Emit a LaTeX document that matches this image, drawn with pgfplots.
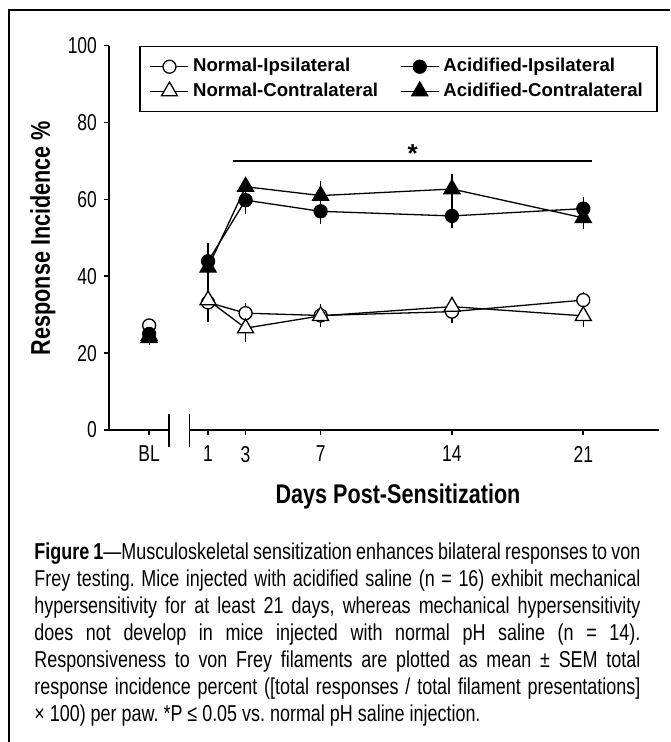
\documentclass[border=0pt]{standalone}
\usepackage{fontspec}
\setmainfont{Liberation Sans}
\newfontfamily\nf[FakeStretch=0.8]{Liberation Sans}
\newfontfamily\tf[FakeStretch=0.76]{Liberation Sans}
\newfontfamily\cf[FakeStretch=0.78]{Liberation Sans}
\usepackage{pgfplots}
\pgfplotsset{compat=1.18}

\pgfplotstableread{
x y e
1 33.2 5
3 30.4 2.6
7 29.8 2.8
14 30.8 3
21 33.8 2.2
}\NI
\pgfplotstableread{
x y e
1 33.8 5
3 26.5 3.5
7 29.7 3
14 32.1 2.6
21 29.7 2.8
}\NC
\pgfplotstableread{
x y e
1 43.9 4.8
3 59.8 3.6
7 56.9 3.3
14 55.7 3.1
21 57.6 3
}\AI
\pgfplotstableread{
x y e
1 42.3 4.5
3 63.3 2.5
7 61.0 3.8
14 62.7 3.8
21 55.2 3
}\AC

\begin{document}
\frenchspacing
\begin{tikzpicture}
\begin{scope}[x=0.5pt,y=0.5pt]
\useasboundingbox (0,0) rectangle (670,742);
\draw[line width=0.6pt] (9,0) -- (9,732) -- (670,732);
\end{scope}

\begin{axis}[
  at={(54.5pt,156pt)}, anchor=south west,
  scale only axis, width=274.85pt, height=192.15pt,
  xmin=-4.28, xmax=25.02, ymin=0, ymax=100,
  axis lines*=left,
  x axis line style={draw=none},
  y axis line style={line width=0.8pt},
  tick align=outside, major tick length=2.5pt,
  tick style={black, line width=0.8pt},
  xtick={-2.14,1,3,7,14,21}, xticklabels={BL,1,3,7,14,21},
  ytick={0,20,40,60,80,100},
  tick label style={font=\tf\fontsize{11.5}{13}\selectfont},
  xticklabel style={yshift=-2pt},
  /pgf/number format/assume math mode=true,
  clip=false,
  legend columns=2,
  legend style={at={(axis cs:-2.68,100)}, anchor=north west, draw=black, line width=0.8pt,
    font=\bfseries\fontsize{9.3}{11}\selectfont, inner xsep=5pt, inner ysep=4pt,
    /tikz/every even column/.append style={column sep=9pt}},
  legend cell align=left,
  legend image code/.code={\draw[mark repeat=2,mark phase=2,#1] plot coordinates {(0pt,0pt) (9.5pt,0pt) (19pt,0pt)};},
  every axis plot/.append style={black, line width=0.65pt},
  error bars/error bar style={line width=0.65pt},
  error bars/error mark=none,
]
% axis line with break
\draw[line width=0.8pt] (axis cs:-4.28,0) -- (axis cs:-1.08,0);
\draw[line width=0.8pt] (axis cs:0,0) -- (axis cs:25.02,0);
\draw[line width=0.8pt] (axis cs:-1.08,-4.3) -- (axis cs:-1.08,4.2);
\draw[line width=0.8pt] (axis cs:0,-4.3) -- (axis cs:0,4.2);

\addplot[mark=*, mark size=3.25pt, mark options={fill=white},
  error bars/.cd, y dir=both, y explicit] table[x=x,y=y,y error=e] {\NI};
\addlegendentry{Normal-Ipsilateral}
\addplot[mark=*, mark size=3.25pt, mark options={fill=black},
  error bars/.cd, y dir=both, y explicit] table[x=x,y=y,y error=e] {\AI};
\addlegendentry{Acidified-Ipsilateral}
\addplot[mark=triangle*, mark size=4.6pt, mark options={fill=white},
  error bars/.cd, y dir=both, y explicit] table[x=x,y=y,y error=e] {\NC};
\addlegendentry{Normal-Contralateral}
\addplot[mark=triangle*, mark size=4.6pt, mark options={fill=black},
  error bars/.cd, y dir=both, y explicit] table[x=x,y=y,y error=e] {\AC};
\addlegendentry{Acidified-Contralateral}

% baseline points
\addplot[forget plot, only marks, mark=triangle*, mark size=4.6pt, mark options={fill=white},
  error bars/.cd, y dir=both, y explicit] coordinates {(-2.14,24.5) +- (0,1.5)};
\addplot[forget plot, only marks, mark=*, mark size=3.25pt, mark options={fill=white},
  error bars/.cd, y dir=both, y explicit] coordinates {(-2.14,27.2) +- (0,1.5)};
\addplot[forget plot, only marks, mark=*, mark size=3.25pt, mark options={fill=black},
  error bars/.cd, y dir=both, y explicit] coordinates {(-2.14,25.0) +- (0,2)};
\addplot[forget plot, only marks, mark=triangle*, mark size=4.6pt, mark options={fill=black},
  error bars/.cd, y dir=both, y explicit] coordinates {(-2.14,24.0) +- (0,2)};

% significance
\draw[line width=0.7pt] (axis cs:2.35,70) -- (axis cs:21.45,70);
\node[font=\bfseries\fontsize{13}{13}\selectfont] at (axis cs:11.9,72) {*};
\end{axis}

\node[font=\nf\bfseries\fontsize{13.5}{15}\selectfont] at (199pt,122.5pt) {Days Post-Sensitization};
\node[font=\nf\bfseries\fontsize{13.5}{15}\selectfont, rotate=90] at (21.5pt,252pt) {Response Incidence \%};

\node[anchor=north west, inner sep=0pt, text width=303pt, align=justify,
  font=\cf\fontsize{11.5}{13.5}\selectfont] at (17pt,100pt)
{\textbf{Figure 1}—Musculoskeletal sensitization enhances bilateral responses to von\linebreak
Frey testing. Mice injected with acidified saline (n = 16) exhibit mechanical\linebreak
hypersensitivity for at least 21 days, whereas mechanical hypersensitivity\linebreak
does not develop in mice injected with normal pH saline (n = 14).\linebreak
Responsiveness to von Frey filaments are plotted as mean ± SEM total\linebreak
response incidence percent ([total responses / total filament presentations]\linebreak
× 100) per paw. *P ≤ 0.05 vs. normal pH saline injection.\par};
\end{tikzpicture}
\end{document}
